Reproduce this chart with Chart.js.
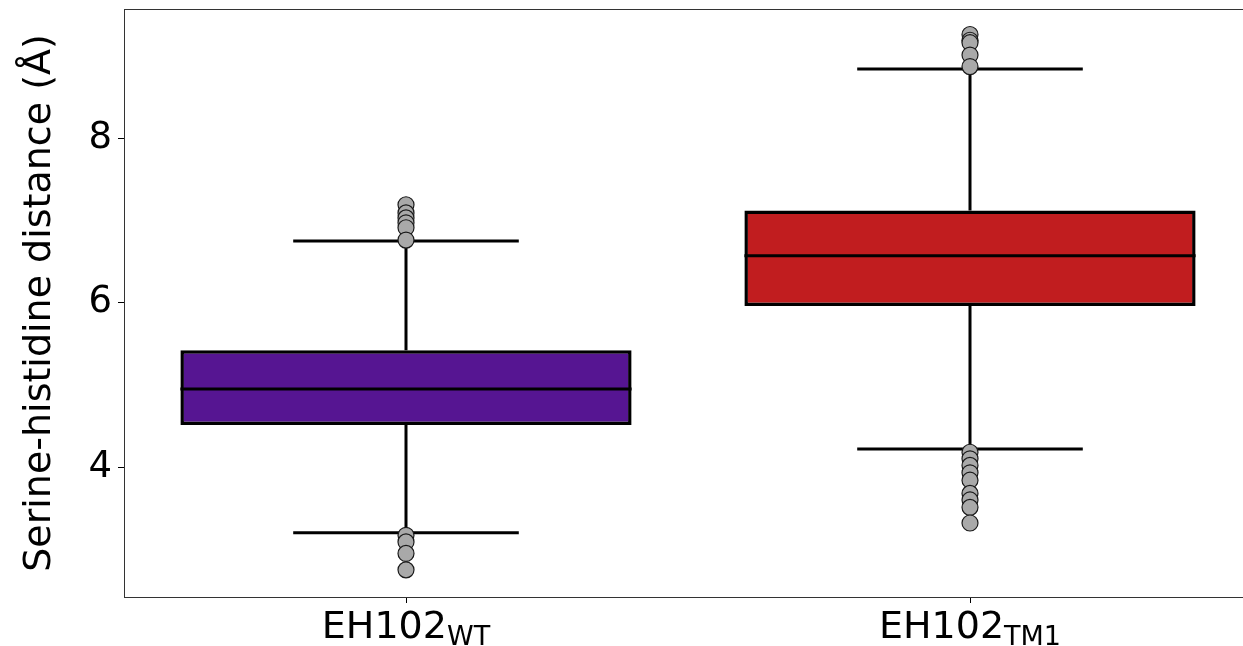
<!DOCTYPE html>
<html>
<head>
<meta charset="utf-8">
<script src="https://cdn.jsdelivr.net/npm/chart.js@4.4.1/dist/chart.umd.min.js"></script>
<style>
    html, body { margin: 0; padding: 0; background: #fff; overflow: hidden; }
    #wrap { width: 1254px; height: 646px; position: relative; }
</style>
</head>
<body>
<div id="wrap"><canvas id="grafico"></canvas></div>
<script>
const categorias = ['EH102 WT', 'EH102 TM1'];
const nomes = ['EH102', 'EH102'];
const subscritos = ['WT', 'TM1'];
const q1 = [4.51, 5.96];
const mediana = [4.95, 6.57];
const q3 = [5.42, 7.12];
const bigodeInf = [3.20, 4.22];
const bigodeSup = [6.75, 8.84];
const outliersWT = [7.19, 7.09, 7.03, 6.97, 6.91, 6.76, 3.17, 3.09, 2.95, 2.75];
const outliersTM1 = [9.26, 9.19, 9.16, 9.01, 8.87, 4.18, 4.10, 4.02, 3.93, 3.84, 3.68, 3.60, 3.51, 3.32];
const yTicks = [4, 6, 8];
const cores = ['#561592', '#c11d1f'];

const fonte = "'DejaVu Sans', sans-serif";

const pontos = [];
outliersWT.forEach(v => pontos.push({ x: categorias[0], y: v }));
outliersTM1.forEach(v => pontos.push({ x: categorias[1], y: v }));

const boxPlugin = {
    id: 'boxplot',
    beforeDatasetsDraw(chart) {
        const { ctx, scales: { x, y } } = chart;
        const larguraCat = (x.right - x.left) / categorias.length;
        ctx.save();
        ctx.strokeStyle = '#000';
        ctx.lineWidth = 3;
        categorias.forEach((c, i) => {
            const px = x.getPixelForValue(i);
            const meia = larguraCat * 0.2;
            ctx.beginPath();
            ctx.moveTo(px, y.getPixelForValue(bigodeInf[i]));
            ctx.lineTo(px, y.getPixelForValue(q1[i]));
            ctx.moveTo(px, y.getPixelForValue(q3[i]));
            ctx.lineTo(px, y.getPixelForValue(bigodeSup[i]));
            ctx.moveTo(px - meia, y.getPixelForValue(bigodeInf[i]));
            ctx.lineTo(px + meia, y.getPixelForValue(bigodeInf[i]));
            ctx.moveTo(px - meia, y.getPixelForValue(bigodeSup[i]));
            ctx.lineTo(px + meia, y.getPixelForValue(bigodeSup[i]));
            ctx.stroke();
        });
        ctx.restore();
    },
    afterDatasetDraw(chart, args) {
        if (args.index !== 0) return;
        const { ctx, scales: { y } } = chart;
        ctx.save();
        ctx.strokeStyle = '#000';
        ctx.lineWidth = 3;
        args.meta.data.forEach((bar, i) => {
            const py = y.getPixelForValue(mediana[i]);
            ctx.beginPath();
            ctx.moveTo(bar.x - bar.width / 2, py);
            ctx.lineTo(bar.x + bar.width / 2, py);
            ctx.stroke();
        });
        ctx.restore();
    },
    afterDraw(chart) {
        const { ctx, chartArea: a, scales: { x } } = chart;
        ctx.save();
        ctx.strokeStyle = '#333';
        ctx.lineWidth = 1;
        ctx.strokeRect(a.left + 0.5, a.top + 0.5, a.right - a.left - 1, a.bottom - a.top);
        // rótulos com subscrito
        ctx.fillStyle = '#000';
        ctx.textBaseline = 'alphabetic';
        ctx.textAlign = 'left';
        categorias.forEach((c, i) => {
            const px = x.getPixelForValue(i);
            ctx.font = '38px ' + fonte;
            const w1 = ctx.measureText(nomes[i]).width;
            ctx.font = '27px ' + fonte;
            const w2 = ctx.measureText(subscritos[i]).width;
            const inicio = px - (w1 + w2) / 2;
            ctx.font = '38px ' + fonte;
            ctx.fillText(nomes[i], inicio, 638);
            ctx.font = '27px ' + fonte;
            ctx.fillText(subscritos[i], inicio + w1, 645);
        });
        ctx.restore();
    }
};

new Chart(document.getElementById('grafico'), {
    type: 'bar',
    data: {
        labels: categorias,
        datasets: [{
            data: categorias.map((c, i) => [q1[i], q3[i]]),
            backgroundColor: cores,
            borderColor: '#000',
            borderWidth: 3.5,
            borderSkipped: false,
            barPercentage: 0.8,
            categoryPercentage: 1.0,
            order: 2
        }, {
            type: 'scatter',
            data: pontos,
            pointRadius: 8,
            pointBackgroundColor: '#a9a9a9',
            pointBorderColor: '#1a1a1a',
            pointBorderWidth: 1.2,
            order: 1
        }]
    },
    options: {
        responsive: true,
        maintainAspectRatio: false,
        animation: false,
        events: [],
        layout: { autoPadding: false, padding: { top: 9, right: 2, left: 0, bottom: 0 } },
        plugins: {
            legend: { display: false },
            tooltip: { enabled: false }
        },
        scales: {
            x: {
                type: 'category',
                offset: true,
                grid: { drawOnChartArea: false, offset: false, tickLength: 6, color: '#000' },
                border: { display: false },
                ticks: { display: false },
                afterFit: s => { s.height = 49; s.paddingLeft = 0; s.paddingRight = 0; }
            },
            y: {
                min: 2.42,
                max: 9.57,
                grid: { drawOnChartArea: false, tickLength: 6, color: '#000' },
                border: { display: false },
                afterBuildTicks: s => { s.ticks = yTicks.map(v => ({ value: v })); },
                ticks: {
                    color: '#000',
                    padding: 6,
                    font: { family: fonte, size: 37 }
                },
                title: {
                    display: true,
                    text: 'Serine-histidine distance (Å)',
                    color: '#000',
                    padding: { top: 17, bottom: 0 },
                    font: { family: fonte, size: 38 }
                },
                afterFit: s => { s.width = 124; s.paddingTop = 0; s.paddingBottom = 0; }
            }
        }
    },
    plugins: [boxPlugin]
});
</script>
</body>
</html>
